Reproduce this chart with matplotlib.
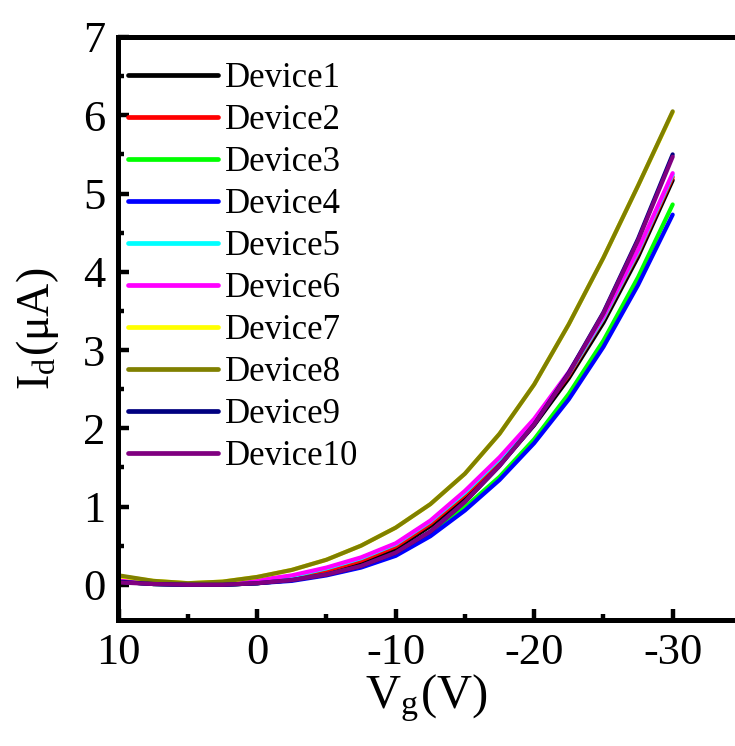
import numpy as np
import matplotlib
matplotlib.use('Agg')
import matplotlib.pyplot as plt
from matplotlib.ticker import MultipleLocator

plt.rcParams['font.family'] = ['Liberation Serif', 'DejaVu Serif']
plt.rcParams['mathtext.fontset'] = 'stix'

# gate voltage (V), read every 2.5 V
vg = [10, 7.5, 5, 2.5, 0, -2.5, -5, -7.5, -10, -12.5, -15, -17.5, -20, -22.5, -25, -27.5, -30]

# drain current (uA)
dev1 = [0.04, 0.01, 0.0, 0.0, 0.02, 0.07, 0.15, 0.28, 0.46, 0.75, 1.11, 1.53, 2.04, 2.64, 3.35, 4.19, 5.17]
dev2 = [0.05, 0.02, 0.0, 0.01, 0.04, 0.09, 0.18, 0.31, 0.49, 0.78, 1.15, 1.57, 2.08, 2.68, 3.40, 4.24, 5.21]
dev3 = [0.04, 0.01, 0.0, 0.0, 0.02, 0.06, 0.13, 0.23, 0.39, 0.65, 0.99, 1.38, 1.86, 2.44, 3.12, 3.93, 4.86]
dev4 = [0.04, 0.01, 0.0, 0.0, 0.02, 0.05, 0.12, 0.22, 0.37, 0.62, 0.95, 1.34, 1.81, 2.37, 3.04, 3.83, 4.73]
dev5 = [0.05, 0.02, 0.01, 0.01, 0.05, 0.11, 0.21, 0.34, 0.52, 0.81, 1.18, 1.61, 2.10, 2.70, 3.41, 4.26, 5.24]
dev6 = [0.06, 0.02, 0.01, 0.02, 0.06, 0.12, 0.22, 0.35, 0.53, 0.82, 1.20, 1.63, 2.12, 2.72, 3.43, 4.28, 5.26]
dev7 = [0.11, 0.05, 0.02, 0.04, 0.10, 0.19, 0.32, 0.50, 0.73, 1.03, 1.42, 1.93, 2.56, 3.33, 4.18, 5.10, 6.04]
dev8 = [0.12, 0.05, 0.02, 0.04, 0.10, 0.19, 0.32, 0.50, 0.73, 1.03, 1.42, 1.93, 2.56, 3.33, 4.18, 5.10, 6.05]
dev9 = [0.04, 0.01, 0.0, 0.0, 0.02, 0.06, 0.13, 0.24, 0.41, 0.68, 1.06, 1.52, 2.05, 2.71, 3.48, 4.42, 5.50]
dev10 = [0.03, 0.01, 0.0, 0.0, 0.02, 0.06, 0.13, 0.24, 0.41, 0.68, 1.06, 1.52, 2.05, 2.70, 3.47, 4.40, 5.47]

labels = ['Device1', 'Device2', 'Device3', 'Device4', 'Device5',
          'Device6', 'Device7', 'Device8', 'Device9', 'Device10']
colors = ['#000000', '#ff0000', '#00ff00', '#0000ff', '#00ffff',
          '#ff00ff', '#ffff00', '#808000', '#000080', '#800080']
series = [dev1, dev2, dev3, dev4, dev5, dev6, dev7, dev8, dev9, dev10]

fig = plt.figure(figsize=(7.35, 7.46), dpi=100)
ax = fig.add_axes([118/735, 126/746, 1 - 118/735, (620-37)/746])

for y, c, lab in zip(series, colors, labels):
    ax.plot(vg, y, color=c, lw=3, label=lab, solid_capstyle='round',
            solid_joinstyle='round')

ax.set_xlim(10.05, -34.5)
ax.set_ylim(-0.45, 7)
ax.xaxis.set_major_locator(MultipleLocator(10))
ax.xaxis.set_minor_locator(MultipleLocator(5))
ax.yaxis.set_major_locator(MultipleLocator(1))
ax.yaxis.set_minor_locator(MultipleLocator(0.5))
ax.tick_params(which='both', direction='in', width=3.2, labelsize=32, top=False, right=False)
ax.tick_params(which='major', length=8, pad=9)
ax.tick_params(which='minor', length=4)
for s in ['left', 'bottom', 'top']:
    ax.spines[s].set_linewidth(3.6)
ax.spines['right'].set_visible(False)

ax.set_xticks([10, 0, -10, -20, -30])
ax.set_xticklabels(['10', '0', '-10', '-20', '-30'])

ax.set_xlabel(r'V$_\mathregular{g}$(V)', fontsize=35, labelpad=0)
ax.set_ylabel(r'I$_\mathregular{d}$($\mathregular{\mu}$A)', fontsize=33, labelpad=16)

leg = ax.legend(loc='upper left', frameon=False, fontsize=25, handlelength=2.6,
                handletextpad=0.2, labelspacing=0.26, borderaxespad=0, borderpad=0,
                bbox_to_anchor=(10/617, 1 - 25/583))
for h in leg.get_lines():
    h.set_linewidth(3.4)

fig.savefig('out.png', dpi=100)
